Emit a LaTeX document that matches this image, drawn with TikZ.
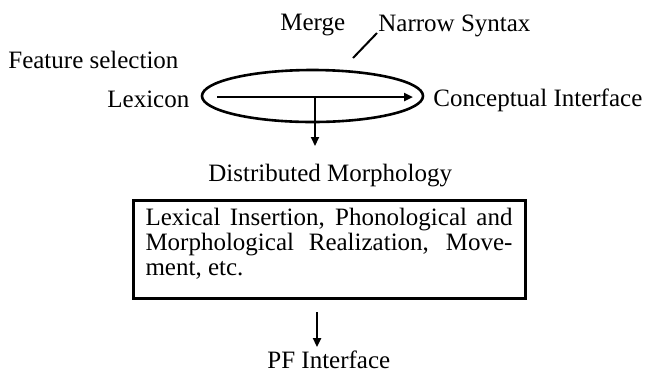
\documentclass[tikz,border=0pt]{standalone}
\usepackage{fontspec}
\setmainfont{Liberation Serif}
\usetikzlibrary{shapes.geometric,arrows.meta}
\begin{document}
\begin{tikzpicture}[x=0.5pt, y=-0.5pt,
    font=\fontsize{12.5pt}{12.5pt}\selectfont,
    lbl/.style={anchor=base west, inner sep=0pt},
    arr/.style={line width=1pt, -{Triangle[length=4.5pt, width=4pt]}}]
    \useasboundingbox (0,0) rectangle (649,372);
    \node[lbl] (merge) at (280,30.7) {Merge};
    \node[lbl] (narrow) at (378,31) {Narrow Syntax};
    \node[lbl] (feature) at (8,68) {Feature selection};
    \node[lbl] (lexicon) at (107,107) {Lexicon};
    \node[lbl] (ci) at (433,106) {Conceptual Interface};
    \node[lbl] (dm) at (208,181.7) {Distributed Morphology};
    \node[lbl] (pf) at (267,368.5) {PF Interface};
    \node[ellipse, draw, line width=1.3pt, minimum width=110.5pt, minimum height=26pt, inner sep=0pt] (syntax) at (312.5,96) {};
    \node[draw, line width=1.5pt, anchor=north west, text width=183.5pt, align=justify, inner xsep=6.25pt, inner ysep=3.85pt, text depth=32.75pt] (morph) at (131.5,198.5)
        {Lexical Insertion, Phonological and\linebreak Morphological Realization, Move-\linebreak ment, etc.};
    \coordinate (tickA) at (377,33);
    \coordinate (tickB) at (353,58);
    \coordinate (lexout) at (217,97);
    \coordinate (ciin) at (413,97);
    \coordinate (split) at (315,97);
    \coordinate (dmin) at (315,146);
    \coordinate (morphout) at (317,312);
    \coordinate (pfin) at (317,347);
    \path (tickA) edge[line width=1pt] (tickB);
    \path (lexout) edge[arr, line width=1.3pt] (ciin);
    \path (split) edge[arr] (dmin);
    \path (morphout) edge[arr, line width=1.2pt] (pfin);
\end{tikzpicture}
\end{document}
